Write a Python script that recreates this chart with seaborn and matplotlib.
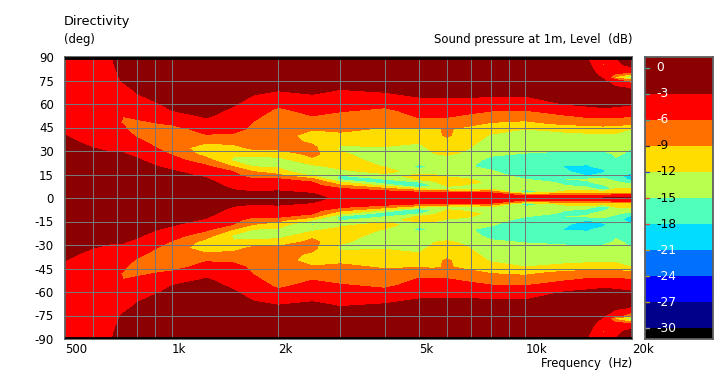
# Directivity map: sound pressure level over frequency and angle
import matplotlib
matplotlib.use('Agg')
import matplotlib.pyplot as plt
from matplotlib.colors import ListedColormap, BoundaryNorm
import seaborn as sns
import numpy as np

sns.set_theme(style='white')
plt.rcParams['font.family'] = ['DejaVu Sans']

angles = [0, 1, 2, 3, 4, 6, 8, 10, 12, 14, 17, 20, 24, 28, 32, 36, 40, 44, 48, 52,
          56, 60, 65, 70, 75, 77, 80, 85, 90]
freqs = [500, 600, 680, 730, 800, 1000, 1250, 1500, 1700, 2000, 2500, 3000, 4000,
         5000, 5500, 6000, 6500, 8000, 10000, 13000, 15000, 16600, 18000, 20000]

# level in dB at each angle, one list per frequency (upper half, lower half mirrors it)
db_500 = [-1, -1, -1, -1, -1, -1, -1.1, -1.2, -1.3, -1.4, -1.5, -1.7, -1.9, -2.1, -2.4, -2.7, -3, -3.2, -3.4, -3.6, -3.8, -4, -4.2, -4.4, -4.6, -4.65, -4.7, -4.8, -5]
db_600 = [-1, -1, -1, -1, -1, -1.1, -1.2, -1.3, -1.4, -1.5, -1.7, -1.9, -2.2, -2.6, -3, -3.4, -3.8, -4.2, -4.5, -4.7, -4.8, -4.8, -4.6, -4.4, -4.2, -4.1, -4, -3.8, -3.6]
db_680 = [-1, -1, -1, -1, -1, -1.1, -1.2, -1.3, -1.5, -1.7, -1.9, -2.1, -2.4, -2.9, -3.3, -3.9, -4.5, -5, -5.4, -5.5, -5.3, -5, -4.6, -4.2, -3.8, -3.7, -3.5, -3.2, -3]
db_730 = [-1, -1, -1, -1, -1, -1.1, -1.2, -1.4, -1.6, -1.8, -2, -2.2, -2.5, -2.9, -3.4, -4, -4.7, -5.5, -6.2, -6, -5.5, -5, -4.3, -3.5, -2.8, -2.6, -2.4, -2.1, -1.9]
db_800 = [-1, -1, -1, -1, -1, -1.1, -1.2, -1.4, -1.6, -1.8, -2, -2.3, -2.7, -3.4, -4.4, -5.3, -6.5, -7.5, -6.5, -5.6, -4.9, -4.2, -3.2, -2.6, -2.2, -2.1, -2, -1.8, -1.7]
db_1000 = [-1.2, -1.2, -1.2, -1.2, -1.3, -1.5, -1.7, -1.9, -2.1, -2.4, -2.8, -3.5, -4.9, -6.2, -7.4, -8.6, -8.3, -7, -5.5, -4.2, -3, -2.4, -1.9, -1.6, -1.4, -1.35, -1.3, -1.2, -1.2]
db_1250 = [-1.5, -1.5, -1.5, -1.5, -1.6, -1.8, -2.1, -2.4, -2.8, -3.2, -4.2, -5.4, -7.7, -10.2, -10.8, -8.5, -6.2, -5, -3.9, -2.8, -2.3, -2, -1.7, -1.5, -1.4, -1.35, -1.3, -1.3, -1.3]
db_1500 = [-2, -2.2, -2.2, -2.4, -2.7, -3.2, -3.7, -4.1, -4.6, -5.2, -6.1, -9.1, -12.5, -11.8, -10, -8, -6.4, -5.3, -4.5, -4, -3.4, -2.8, -2.2, -1.8, -1.6, -1.55, -1.5, -1.5, -1.5]
db_1700 = [-2, -2.1, -2.3, -2.6, -3, -3.6, -4.2, -4.9, -5.8, -7.2, -9.1, -12, -13.5, -10.8, -8.4, -7.6, -7, -6.5, -6.1, -5.6, -5, -4, -3.1, -2.4, -2, -1.9, -1.8, -1.6, -1.5]
db_2000 = [-1.5, -1.7, -2, -2.4, -2.8, -3.5, -4.2, -4.9, -5.7, -8, -10.5, -12.6, -13.5, -10.7, -8.3, -8, -7.8, -7.5, -7.2, -6.9, -6.4, -5.6, -3.9, -2.6, -2.1, -2, -1.9, -1.7, -1.6]
db_2500 = [-2.4, -2.6, -2.8, -3, -3.4, -4.2, -5, -5.8, -8.3, -12, -15.6, -13, -9.8, -8.2, -8.3, -9.5, -10.2, -8.8, -7.4, -6.1, -5.3, -4.4, -3.2, -2.4, -2.1, -2, -1.9, -1.8, -1.7]
db_3000 = [-3.6, -3.7, -3.9, -4.2, -4.6, -5.9, -8.6, -11.7, -15.8, -15.3, -12.8, -11, -10.5, -11.6, -12.6, -11, -9.5, -8.5, -7.5, -6.6, -5.8, -4.6, -3.6, -2.9, -2.4, -2.3, -2.1, -1.9, -1.8]
db_4000 = [-3.8, -3.9, -4.1, -4.4, -5, -8.5, -12.8, -17, -15, -13.5, -10.8, -12.1, -13.5, -13.6, -12.3, -10.8, -10.2, -9.3, -8.2, -7.2, -6.4, -5.4, -3.4, -2.6, -2.2, -2.1, -2, -1.9, -1.8]
db_5000 = [-4, -4.1, -4.4, -5, -6.5, -12, -19.5, -15.3, -11.5, -10.5, -13.9, -15.8, -13.2, -12.3, -12.6, -11.8, -10.4, -9.2, -6.9, -5.8, -5.2, -3.8, -2.9, -2.4, -2.2, -2.1, -2, -2, -1.9]
db_5500 = [-4, -4.1, -4.5, -5.2, -7.5, -13.5, -15, -12.5, -11, -11, -13.9, -14.6, -13, -12.1, -11.5, -10.8, -10, -9.4, -7.5, -5.8, -5.1, -3.8, -2.85, -2.4, -2.2, -2.1, -2.05, -2, -1.95]
db_6000 = [-4, -4.2, -4.6, -5.2, -7.5, -13.5, -11.5, -10.5, -11, -12.4, -14, -13.5, -12.8, -11.8, -10.8, -10, -8.5, -8.7, -7.6, -5.8, -5, -3.8, -2.8, -2.4, -2.2, -2.15, -2.1, -2, -2]
db_6500 = [-4, -4.2, -4.7, -5.4, -8, -14, -12, -11, -11.5, -12.8, -14.2, -14.2, -13.5, -12.2, -11.2, -10.5, -10, -9.3, -7.8, -6.2, -5.2, -3.9, -2.85, -2.3, -2.1, -2.05, -2, -1.9, -1.9]
db_8000 = [-4, -4.3, -4.8, -5.2, -7.5, -13, -13.5, -12.5, -13, -13.8, -14.6, -16, -15.8, -14.6, -13.8, -13, -12.3, -10.8, -9.1, -7.6, -5.8, -4.1, -2.9, -2.2, -1.9, -1.85, -1.8, -1.8, -1.8]
db_10000 = [-3.8, -4.5, -7, -12, -17, -14, -12.8, -13.5, -15, -16, -18.2, -17, -16, -15.2, -14, -13.2, -12.6, -12, -9.6, -7.8, -6, -4.2, -3, -2.2, -1.9, -1.85, -1.8, -1.8, -1.8]
db_13000 = [-3.8, -5, -8, -9.5, -11.5, -13.5, -15, -15.7, -15, -15, -17.6, -18.2, -17, -15.8, -14.2, -13.5, -12.8, -11.2, -8, -6.4, -4.6, -2.9, -2, -1.6, -1.4, -1.35, -1.3, -1.3, -1.3]
db_15000 = [-3.3, -4.5, -7, -9, -11, -13, -17, -15.3, -14.8, -18, -20, -18.4, -17, -15.8, -14.4, -13.6, -12.6, -10.8, -7.8, -5.7, -3.6, -2.7, -2.2, -1.8, -1.6, -1.7, -1.8, -2.3, -3.1]
db_16600 = [-3, -4, -6.5, -9, -11, -19, -15.2, -14, -14.5, -16, -18.8, -17, -16, -15.5, -14.5, -13.4, -12.7, -10.4, -7.5, -5.6, -3.3, -2.6, -2.2, -2, -2.7, -3.3, -4.4, -6.3, -4.5]
db_18000 = [-2.8, -3.6, -6, -9.2, -10.5, -12.2, -14, -14.5, -16, -15.5, -15.2, -15.6, -15.2, -14.8, -14, -13.2, -12.6, -10.8, -7.6, -5.7, -3.4, -2.7, -2.2, -2.5, -4.8, -10, -5, -4, -2.9]
db_20000 = [-2.5, -3.3, -5.5, -9.2, -10.5, -12, -14, -16.5, -19, -21.5, -17, -15.6, -16, -15.3, -15, -14, -13, -12.1, -8, -6, -5.2, -2.7, -2.3, -3.2, -8, -16, -6.5, -1.8, -1.6]

levels = [0, -3, -6, -9, -12, -15, -18, -21, -24, -27, -30]
band_colors = ['#000000', '#00008b', '#0000ff', '#0070ff', '#00ddff', '#50ffb9',
               '#b9ff50', '#ffdd00', '#ff7000', '#ff0000', '#8b0000']
freq_labels = ['500', '1k', '2k', '5k', '10k', '20k']
freq_label_pos = [500, 1000, 2000, 5000, 10000, 20000]
grid_freqs = [600, 700, 800, 900, 1000, 2000, 3000, 4000, 5000, 6000, 7000, 8000, 9000, 10000]
minor_freqs = [1500, 2500, 3500, 4500, 15000]
angle_ticks = [90, 75, 60, 45, 30, 15, 0, -15, -30, -45, -60, -75, -90]
level_tick_colors = ['#4f9a9a', '#4f9a9a', '#4f9a9a', '#333333', '#3050c0', '#e05030',
                     '#e05030', '#c0a020', '#c0a020', '#c0a020', '#999999']
level_text_colors = ['white', 'white', 'white', 'black', 'black', 'black',
                     'black', 'white', 'white', 'white', 'white']

W, H = 727, 374
GRID = '#777777'
EDGE = '#5f5f5f'


def main():
    db = np.array([db_500, db_600, db_680, db_730, db_800, db_1000, db_1250, db_1500,
                   db_1700, db_2000, db_2500, db_3000, db_4000, db_5000, db_5500, db_6000,
                   db_6500, db_8000, db_10000, db_13000, db_15000, db_16600, db_18000,
                   db_20000]).T
    ang = np.array(angles)
    full_ang = np.concatenate([-ang[:0:-1], ang])
    full_db = np.concatenate([db[:0:-1], db], axis=0)

    bounds = [-100, -30, -27, -24, -21, -18, -15, -12, -9, -6, -3, 100]
    cmap = ListedColormap(band_colors)
    norm = BoundaryNorm(bounds, cmap.N)

    fig = plt.figure(figsize=(W / 100, H / 100), dpi=100, facecolor='white')
    ax = fig.add_axes([65 / W, 1 - 339 / H, 567 / W, 282 / H])
    ax.contourf(freqs, full_ang, full_db, levels=bounds, cmap=cmap, norm=norm)
    ax.set_xscale('log')
    ax.set_xlim(500, 20000)
    ax.set_ylim(-90, 90)

    for f in grid_freqs:
        ax.axvline(f, color=GRID, lw=0.72, zorder=3)
    for a in angle_ticks[1:-1]:
        ax.axhline(a, color=GRID, lw=0.72, zorder=3)
    ax.axhline(89.3, color='black', lw=2, zorder=4)
    ax.axhline(-89.3, color='black', lw=2, zorder=4)

    ax.set_xticks(freq_label_pos, freq_labels, ha='left')
    ax.set_xticks(minor_freqs, minor=True)
    ax.set_xticklabels([], minor=True)
    ax.tick_params(axis='x', which='major', length=0, pad=3, labelsize=8.5, colors='black')
    ax.tick_params(axis='x', which='minor', direction='in', length=3, width=1,
                   color='#aaaaaa', bottom=True, top=True)
    ax.set_yticks(angle_ticks, [str(a) for a in angle_ticks])
    ax.tick_params(axis='y', length=0, pad=8, labelsize=8.5, colors='black')
    for s in ax.spines.values():
        s.set_visible(True)
        s.set_color(EDGE)
        s.set_linewidth(1.3)

    # color key: quarter dB rows from +1.25 to -31.25
    key_db = np.arange(1.125, -31.25, -0.25).reshape(-1, 1)
    cax = fig.add_axes([645 / W, 1 - 339 / H, 68 / W, 282 / H])
    sns.heatmap(key_db, ax=cax, cmap=cmap, norm=norm, cbar=False, xticklabels=False,
                yticklabels=False)
    for s in cax.spines.values():
        s.set_visible(True)
        s.set_color(EDGE)
        s.set_linewidth(1.3)
    for lv, tc, lc in zip(levels, level_tick_colors, level_text_colors):
        pos = (1.25 - lv) * 4
        cax.plot([0, 0.06], [pos, pos], color=tc, lw=1, clip_on=True)
        cax.text(0.17, pos, str(lv), color=lc, fontsize=8.8, ha='left', va='center')

    fig.text(64 / W, 1 - 21 / H, 'Directivity', fontsize=9.3, ha='left', va='center', color='black')
    fig.text(64 / W, 1 - 39 / H, '(deg)', fontsize=8.4, ha='left', va='center', color='black')
    fig.text(632 / W, 1 - 39 / H, 'Sound pressure at 1m, Level  (dB)', fontsize=8.4,
             ha='right', va='center', color='black')
    fig.text(632 / W, 1 - 364 / H, 'Frequency  (Hz)', fontsize=8.4, ha='right', va='center',
             color='black')

    fig.savefig('out.png', dpi=100, facecolor='white')


if __name__ == '__main__':
    main()
